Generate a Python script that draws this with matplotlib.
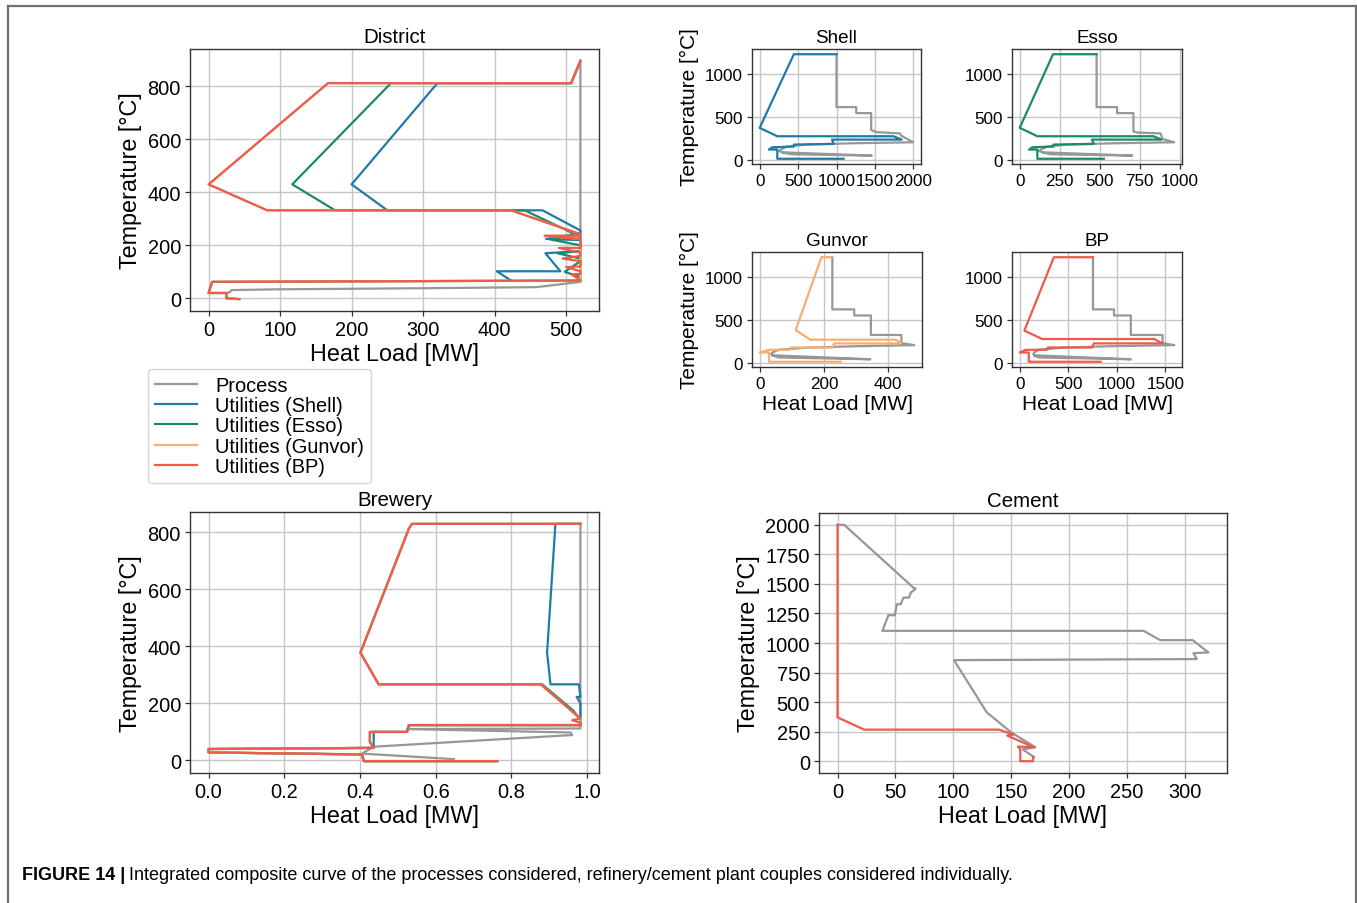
import matplotlib
matplotlib.use('Agg')
import matplotlib.pyplot as plt
from matplotlib.lines import Line2D

plt.rcParams['font.family'] = ['Liberation Sans', 'DejaVu Sans']

# ---------------- colours / labels ----------------
C_PROC = '#979797'
C_SHELL = '#1f7ba8'
C_ESSO = '#1b8a6b'
C_GUNVOR = '#f6ae72'
C_BP = '#ee5a4b'
legend_labels = ['Process', 'Utilities (Shell)', 'Utilities (Esso)', 'Utilities (Gunvor)', 'Utilities (BP)']

# ---------------- District ----------------
dist_proc_x = [520, 520, 458, 300, 100, 32, 30, 27]
dist_proc_y = [896, 62, 42, 38, 34, 31, 24, 21]
dist_shell_x = [520, 507, 320, 200, 250, 467, 520, 520, 472, 520, 520, 471, 492, 403, 423]
dist_shell_y = [896, 812, 812, 430, 332, 332, 256, 246, 224, 220, 178, 170, 102, 102, 67]
dist_esso_x = [520, 507, 255, 117, 177, 442, 520, 520, 478, 520, 520, 488, 520, 520, 498, 520, 520, 5, 0, 25, 25, 43]
dist_esso_y = [896, 812, 812, 430, 332, 332, 232, 224, 222, 200, 178, 170, 150, 140, 100, 80, 67, 62, 20, 20, 0, -3]
dist_gunvor_x = [520, 507, 167, 0, 82, 423, 520, 520, 470, 520, 520, 5, 0, 25, 25, 43]
dist_gunvor_y = [896, 812, 812, 430, 332, 332, 242, 236, 236, 224, 67, 62, 20, 20, 0, -3]
dist_bp_x = [520, 507, 167, 0, 82, 423, 520, 520, 470, 520, 520, 490, 520, 520, 495, 520, 520, 500, 520, 520, 508, 520, 5, 0, 25, 25, 43]
dist_bp_y = [896, 812, 812, 430, 332, 332, 242, 236, 236, 224, 190, 190, 172, 160, 150, 140, 120, 118, 102, 92, 90, 67, 62, 20, 20, 0, -3]

# ---------------- Shell ----------------
shell_proc_x = [1000, 1000, 1257, 1257, 1451, 1451, 1520, 1827, 1840, 2000, 1200, 600, 350, 280, 250, 300, 1460, 420, 300]
shell_proc_y = [1226, 611, 611, 541, 541, 346, 320, 305, 280, 202, 190, 175, 150, 120, 100, 85, 47, 62, 80]
shell_util_x = [1000, 445, 0, 229, 1741, 1849, 942, 963, 445, 445, 164, 120, 229, 229, 1093]
shell_util_y = [1226, 1226, 370, 272, 272, 233, 233, 183, 175, 152, 144, 117, 117, 10, 10]

# ---------------- Esso ----------------
esso_proc_x = [480, 480, 608, 608, 710, 710, 735, 880, 891, 965, 580, 290, 170, 135, 120, 145, 703, 200, 145]
esso_proc_y = [1226, 611, 611, 541, 541, 327, 315, 305, 241, 202, 190, 175, 150, 120, 100, 85, 47, 62, 80]
esso_util_x = [480, 208, 0, 110, 835, 885, 452, 462, 210, 210, 79, 58, 110, 110, 525]
esso_util_y = [1226, 1226, 370, 272, 272, 233, 233, 183, 175, 152, 144, 117, 117, 10, 10]

# ---------------- Gunvor ----------------
gunvor_proc_x = [226, 226, 294, 294, 346, 346, 441, 441, 481, 290, 150, 60, 40, 35, 45, 344, 60, 40]
gunvor_proc_y = [1227, 620, 620, 549, 549, 322, 322, 227, 204, 190, 175, 150, 120, 100, 85, 39, 60, 80]
gunvor_util_x = [226, 192, 112, 157, 424, 441, 232, 227, 97, 95, 29, 0, 29, 29, 252]
gunvor_util_y = [1227, 1227, 380, 267, 267, 224, 224, 176, 176, 150, 149, 118, 118, 10, 10]

# ---------------- BP ----------------
bp_proc_x = [755, 755, 972, 972, 1145, 1145, 1472, 1472, 1593, 900, 450, 200, 150, 140, 160, 1145, 200, 150]
bp_proc_y = [1227, 620, 620, 549, 549, 322, 322, 227, 204, 190, 175, 150, 120, 100, 85, 39, 60, 80]
bp_util_x = [755, 352, 48, 231, 1386, 1472, 765, 745, 290, 280, 59, 0, 93, 93, 834]
bp_util_y = [1227, 1227, 373, 275, 275, 224, 224, 176, 176, 150, 149, 118, 118, 10, 10]

# ---------------- Brewery ----------------
brew_proc_x = [0.982, 0.982, 0.524, 0.956, 0.960, 0.727, 0.436, 0.405, 0.648]
brew_proc_y = [829, 111, 109, 97, 88, 70, 47, 23, 3.5]
brew_shell_x = [0.982, 0.916, 0.894, 0.903, 0.978, 0.982, 0.972, 0.982, 0.982, 0.529, 0.524, 0.436, 0.436, 0.0, 0.0, 0.405, 0.41, 0.762]
brew_shell_y = [829, 829, 377, 266, 266, 222, 222, 200, 123, 123, 99, 99, 43, 39, 27, 20, -3.5, -3.5]
brew_esso_x = [0.982, 0.537, 0.529, 0.401, 0.449, 0.881, 0.964, 0.982, 0.982, 0.529, 0.524, 0.426, 0.426, 0.436, 0.0, 0.0, 0.405, 0.41, 0.762]
brew_esso_y = [829, 829, 812, 377, 266, 266, 173, 140, 123, 123, 99, 99, 64, 43, 39, 27, 20, -3.5, -3.5]
brew_gunvor_x = [0.982, 0.537, 0.529, 0.401, 0.449, 0.877, 0.982, 0.982, 0.529, 0.524, 0.426, 0.426, 0.436, 0.0, 0.0, 0.405, 0.41, 0.762]
brew_gunvor_y = [829, 829, 812, 377, 266, 266, 146, 123, 123, 99, 99, 64, 43, 39, 27, 20, -3.5, -3.5]
brew_bp_x = [0.982, 0.537, 0.529, 0.401, 0.449, 0.877, 0.982, 0.960, 0.982, 0.982, 0.529, 0.524, 0.426, 0.426, 0.436, 0.0, 0.0, 0.405, 0.41, 0.762]
brew_bp_y = [829, 829, 812, 377, 266, 266, 146, 140, 131, 123, 123, 99, 99, 64, 43, 39, 27, 20, -3.5, -3.5]

# ---------------- Cement ----------------
cem_proc_x = [0, 5.75, 65.6, 67.6, 63.3, 61.8, 56.9, 54.6, 51.2, 49.5, 44.0, 38.8, 264.6, 279, 307, 320.7, 307.7, 310.6, 100.7, 129, 150, 171, 160, 170]
cem_proc_y = [2000, 2000, 1468, 1460, 1426, 1384, 1384, 1328, 1328, 1235, 1235, 1103, 1103, 1024, 1024, 920, 914, 864, 855, 413, 245, 118, 100, 34]
cem_bp_x = [0, 0, 23, 139.5, 152, 146.7, 169.7, 156, 158, 158, 169, 169]
cem_bp_y = [2000, 371, 267, 267, 225, 217, 118, 124, 100, 0, 0, 34]

# ---------------- ticks ----------------
dist_xticks = [0, 100, 200, 300, 400, 500]
dist_yticks = [0, 200, 400, 600, 800]
shell_xticks = [0, 500, 1000, 1500, 2000]
esso_xticks = [0, 250, 500, 750, 1000]
gunvor_xticks = [0, 200, 400]
bp_xticks = [0, 500, 1000, 1500]
small_yticks = [0, 500, 1000]
brew_xticks = [0.0, 0.2, 0.4, 0.6, 0.8, 1.0]
brew_yticks = [0, 200, 400, 600, 800]
cem_xticks = [0, 50, 100, 150, 200, 250, 300]
cem_yticks = [0, 250, 500, 750, 1000, 1250, 1500, 1750, 2000]

W, H = 1357, 904
fig = plt.figure(figsize=(W / 100, H / 100), dpi=100)
LW = 1.6


def ax_at(l, r, t, b):
    return fig.add_axes([l / W, 1 - b / H, (r - l) / W, (b - t) / H])


def style(ax, title, xt, yt, tick_fs, lab_fs, title_fs, xlabel=True, ylabel=True):
    ax.set_axisbelow(True)
    ax.grid(True, color='#c6c6c6', lw=1.0)
    for s in ax.spines.values():
        s.set_color('#333333')
        s.set_linewidth(1.0)
    ax.set_xticks(xt)
    ax.set_yticks(yt)
    ax.tick_params(labelsize=tick_fs, length=3.5, width=0.9, color='#333333', pad=3)
    ax.set_title(title, fontsize=title_fs, pad=5)
    if xlabel:
        ax.set_xlabel('Heat Load [MW]', fontsize=lab_fs, labelpad=2)
    if ylabel:
        ax.set_ylabel('Temperature [°C]', fontsize=lab_fs, labelpad=4)


BIG = (14.4, 16.8, 14.8)
SMALL = (12.3, 15.0, 13.6)

# District
ax = ax_at(190, 599, 50, 312)
l0, = ax.plot(dist_proc_x, dist_proc_y, color=C_PROC, lw=LW)
l1, = ax.plot(dist_shell_x, dist_shell_y, color=C_SHELL, lw=LW)
l2, = ax.plot(dist_esso_x, dist_esso_y, color=C_ESSO, lw=LW)
l3, = ax.plot(dist_gunvor_x, dist_gunvor_y, color=C_GUNVOR, lw=LW)
l4, = ax.plot(dist_bp_x, dist_bp_y, color=C_BP, lw=LW)
style(ax, 'District', dist_xticks, dist_yticks, *BIG)

# Shell
ax = ax_at(752, 921, 50, 165)
ax.plot(shell_proc_x, shell_proc_y, color=C_PROC, lw=LW)
ax.plot(shell_util_x, shell_util_y, color=C_SHELL, lw=LW)
style(ax, 'Shell', shell_xticks, small_yticks, *SMALL, xlabel=False)

# Esso
ax = ax_at(1012, 1182, 50, 165)
ax.plot(esso_proc_x, esso_proc_y, color=C_PROC, lw=LW)
ax.plot(esso_util_x, esso_util_y, color=C_ESSO, lw=LW)
style(ax, 'Esso', esso_xticks, small_yticks, *SMALL, xlabel=False, ylabel=False)

# Gunvor
ax = ax_at(752, 922, 253, 368)
ax.plot(gunvor_proc_x, gunvor_proc_y, color=C_PROC, lw=LW)
ax.plot(gunvor_util_x, gunvor_util_y, color=C_GUNVOR, lw=LW)
style(ax, 'Gunvor', gunvor_xticks, small_yticks, *SMALL)

# BP
ax = ax_at(1012, 1182, 253, 368)
ax.plot(bp_proc_x, bp_proc_y, color=C_PROC, lw=LW)
ax.plot(bp_util_x, bp_util_y, color=C_BP, lw=LW)
style(ax, 'BP', bp_xticks, small_yticks, *SMALL, ylabel=False)

# Brewery
ax = ax_at(190, 599, 513, 774)
ax.plot(brew_proc_x, brew_proc_y, color=C_PROC, lw=LW)
ax.plot(brew_shell_x, brew_shell_y, color=C_SHELL, lw=LW)
ax.plot(brew_esso_x, brew_esso_y, color=C_ESSO, lw=LW)
ax.plot(brew_gunvor_x, brew_gunvor_y, color=C_GUNVOR, lw=LW)
ax.plot(brew_bp_x, brew_bp_y, color=C_BP, lw=LW)
style(ax, 'Brewery', brew_xticks, brew_yticks, *BIG)

# Cement
ax = ax_at(819, 1227, 514, 774)
ax.plot(cem_proc_x, cem_proc_y, color=C_PROC, lw=LW)
ax.plot(cem_bp_x, cem_bp_y, color=C_BP, lw=LW)
style(ax, 'Cement', cem_xticks, cem_yticks, *BIG)

# Legend
leg = fig.legend([l0, l1, l2, l3, l4], legend_labels, loc='upper left',
                 bbox_to_anchor=(148 / W, 1 - 370 / H), fontsize=14.4,
                 handlelength=2.1, handletextpad=0.9, labelspacing=0.06,
                 borderpad=0.35, borderaxespad=0, frameon=True, fancybox=True)
leg.get_frame().set_edgecolor('#cccccc')
leg.get_frame().set_linewidth(1.0)

# Border
bc = '#707070'
fig.add_artist(Line2D([7.5 / W, 7.5 / W], [0, 1 - 6.5 / H], color=bc, lw=1.6))
fig.add_artist(Line2D([7.5 / W, 1355.5 / W], [1 - 6.5 / H, 1 - 6.5 / H], color=bc, lw=1.6))
fig.add_artist(Line2D([1355.5 / W, 1355.5 / W], [0, 1 - 6.5 / H], color=bc, lw=1.6))

# Caption
t1 = fig.text(22 / W, 1 - 876 / H, 'FIGURE 14 |', fontsize=13, fontweight='bold', va='center', ha='left')
fig.canvas.draw()
bb = t1.get_window_extent(renderer=fig.canvas.get_renderer())
fig.text(bb.x1 / W + 4 / W, 1 - 876 / H,
         'Integrated composite curve of the processes considered, refinery/cement plant couples considered individually.',
         fontsize=13, va='center', ha='left')

fig.savefig('out.png', dpi=100)
